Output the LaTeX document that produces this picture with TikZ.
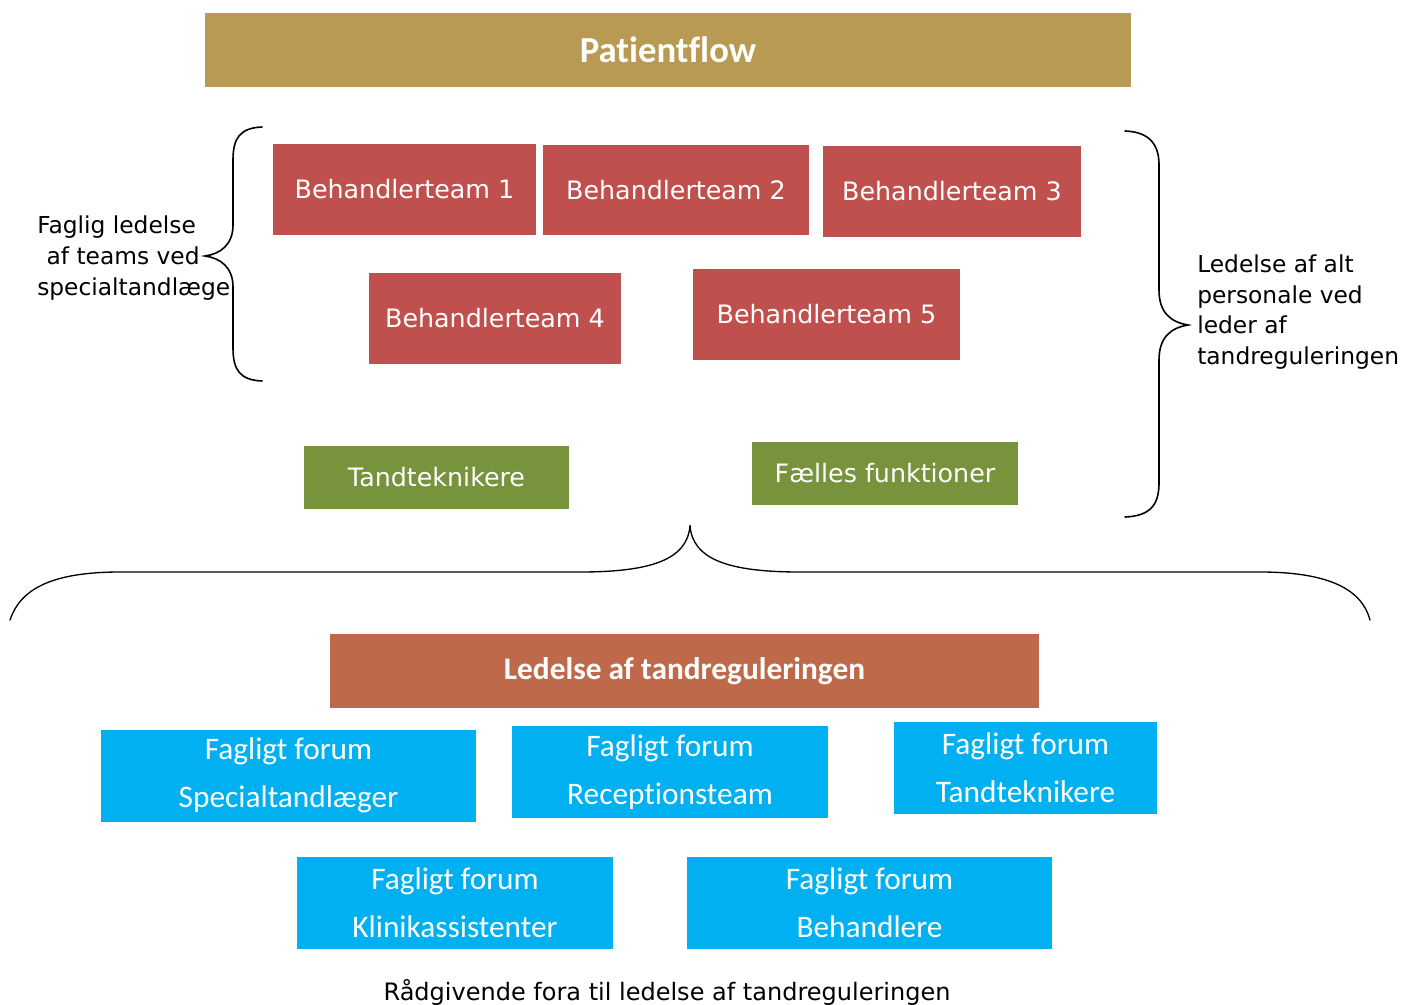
\documentclass[tikz,border=0pt]{standalone}
\usepackage{fontspec}
\setmainfont{DejaVu Sans}
\newfontfamily\calibri[Ligatures=NoCommon]{Carlito}
\usepackage{tikz}
\usetikzlibrary{positioning}
\definecolor{flowgold}{HTML}{B89A52}
\definecolor{teamred}{HTML}{C0504D}
\definecolor{staffgreen}{HTML}{77933C}
\definecolor{leadorange}{HTML}{BE6A4A}
\definecolor{forumblue}{HTML}{00B0F0}
\tikzset{
    headbox/.style={rectangle, inner sep=0pt, text=white, font=\calibri\bfseries\fontsize{27.5}{32}\selectfont},
    teambox/.style={rectangle, inner sep=0pt, fill=teamred, text=white, minimum height=68pt, font=\fontsize{19}{22}\selectfont},
    staffbox/.style={rectangle, inner sep=0pt, fill=staffgreen, text=white, minimum width=199pt, minimum height=47pt, font=\fontsize{19}{22}\selectfont},
    forumbox/.style={rectangle, inner sep=0pt, fill=forumblue, text=white, minimum height=69pt, align=center, font=\calibri\fontsize{23.5}{36}\selectfont},
    sidelabel/.style={inner sep=0pt, align=left, font=\fontsize{17.5}{24}\selectfont},
    brace/.style={line width=1.2pt, line cap=round}
}
\begin{document}
\begin{tikzpicture}[x=0.75pt, y=-0.75pt]
    \useasboundingbox (0,0) rectangle (1405,1005);

    % top band
    \node (flow) [headbox, fill=flowgold, minimum width=694pt, minimum height=55pt] at (668,50) {Patientflow};

    % treatment teams
    \node (team1) [teambox, minimum width=197pt] at (404.5,189.5) {Behandlerteam 1};
    \node (team2) [teambox, minimum width=199pt] at (676,190) {Behandlerteam 2};
    \node (team3) [teambox, minimum width=193pt] at (952,191.5) {Behandlerteam 3};
    \node (team4) [teambox, minimum width=189pt] at (495,318.5) {Behandlerteam 4};
    \node (team5) [teambox, minimum width=200pt] at (826.5,314.5) {Behandlerteam 5};

    \node (tech) [staffbox] at (436.5,477.5) {Tandteknikere};
    \node (common) [staffbox] at (885,473.5) {Fælles funktioner};

    % braces
    \draw [brace] (262,127) .. controls (240,128) and (233,138) .. (233,160)
        -- (233,225) .. controls (233,245) and (220,254) .. (205,256)
        .. controls (220,258) and (233,267) .. (233,287)
        -- (233,348) .. controls (233,370) and (240,380) .. (262,381);
    \draw [brace] (1125,131) .. controls (1150,132) and (1159,145) .. (1159,165)
        -- (1159,290) .. controls (1159,312) and (1170,322) .. (1188,325)
        .. controls (1170,328) and (1159,338) .. (1159,360)
        -- (1159,483) .. controls (1159,505) and (1150,516) .. (1125,517);
    \draw [brace, line width=1pt] (10,620) .. controls (20,590) and (50,572) .. (120,572)
        -- (580,572) .. controls (650,572) and (688,560) .. (690,525)
        .. controls (692,560) and (730,572) .. (800,572)
        -- (1260,572) .. controls (1330,572) and (1362,590) .. (1370,620);

    \node (faglabel) [sidelabel, anchor=west] at (37,258) {Faglig ledelse\\[-1pt]\hspace*{7pt}af teams ved\\[-1pt]specialtandlæge};
    \node (alllabel) [sidelabel, anchor=west] at (1197,312) {Ledelse af alt\\[-1pt]personale ved\\[-1pt]leder af\\[-1pt]tandreguleringen};

    % management and advisory fora
    \node (lead) [headbox, fill=leadorange, minimum width=532pt, minimum height=55pt, font=\calibri\bfseries\fontsize{23.5}{27}\selectfont] at (684.5,671) {Ledelse af tandreguleringen};

    \node (forum1) [forumbox, minimum width=281pt] at (288.5,775.5) {Fagligt forum\\Specialtandlæger};
    \node (forum2) [forumbox, minimum width=237pt] at (670,772) {Fagligt forum\\Receptionsteam};
    \node (forum3) [forumbox, minimum width=197pt] at (1025.5,767.5) {Fagligt forum\\Tandteknikere};
    \node (forum4) [forumbox, minimum width=237pt] at (455,903) {Fagligt forum\\Klinikassistenter};
    \node (forum5) [forumbox, minimum width=274pt] at (869.5,903) {Fagligt forum\\Behandlere};

    \node (caption) [font=\fontsize{18}{21}\selectfont, inner sep=0pt] at (667,992) {Rådgivende fora til ledelse af tandreguleringen};
\end{tikzpicture}
\end{document}
